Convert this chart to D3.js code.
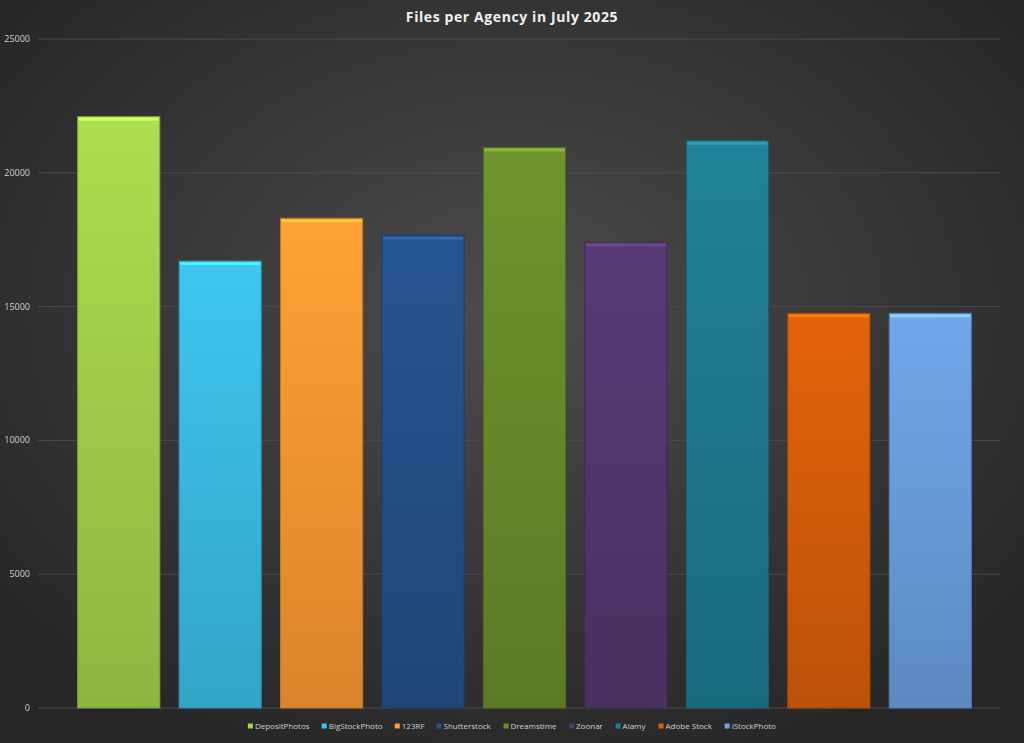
<!DOCTYPE html>
<html><head><meta charset="utf-8">
<script src="https://cdn.jsdelivr.net/npm/d3@7"></script>
<style>body{margin:0;background:#262626}</style>
</head><body><div id="chart"></div>
<script>
const agencies = ["DepositPhotos","BigStockPhoto","123RF","Shutterstock","Dreamstime","Zoonar","Alamy","Adobe Stock","iStockPhoto"];
const files = [22100,16700,18300,17650,20950,17400,21200,14750,14750];
const colours = ["#a6d64c","#3cc0e8","#ff9c32","#24528c","#6b8f2c","#553872","#1e7d94","#dc600a","#6ca2e2"];
const yTicks = [0,5000,10000,15000,20000,25000];

const width = 1024, height = 743;
const svg = d3.select("#chart").append("svg").attr("width", width).attr("height", height);
const defs = svg.append("defs");
const bg = defs.append("radialGradient").attr("id","bg").attr("cx","50%").attr("cy","42%").attr("r","65%");
bg.append("stop").attr("offset","0%").attr("stop-color","#4c4c4c");
bg.append("stop").attr("offset","100%").attr("stop-color","#262626");
svg.append("rect").attr("width",width).attr("height",height).attr("fill","url(#bg)");

const x = d3.scaleBand().domain(agencies).range([68, 981]).paddingInner(0.19).paddingOuter(0.095);
const y = d3.scaleLinear().domain([0,25000]).range([708,39]);

svg.append("g").selectAll("line").data(yTicks).enter().append("line")
  .attr("x1",38).attr("x2",1000).attr("y1",d=>y(d)).attr("y2",d=>y(d))
  .attr("stroke","#4a4a4a").attr("stroke-width",1);
svg.append("g").selectAll("text").data(yTicks).enter().append("text")
  .attr("x",30).attr("y",d=>y(d)+3).attr("text-anchor","end")
  .style("font-family","Open Sans, sans-serif").style("font-size","9px").attr("fill","#d0d0d0")
  .text(d=>d);

colours.forEach((c,i)=>{
  const g = defs.append("linearGradient").attr("id","g"+i).attr("x1",0).attr("x2",0).attr("y1",0).attr("y2",1);
  g.append("stop").attr("offset","0%").attr("stop-color",d3.color(c).brighter(0.1));
  g.append("stop").attr("offset","100%").attr("stop-color",d3.color(c).darker(0.45));
});

const bars = svg.append("g").selectAll("g").data(agencies).enter().append("g");
bars.append("rect")
  .attr("x",d=>x(d)).attr("y",(d,i)=>y(files[i]))
  .attr("width",x.bandwidth()).attr("height",(d,i)=>y(0)-y(files[i]))
  .attr("fill",(d,i)=>"url(#g"+i+")")
  .attr("stroke",(d,i)=>d3.color(colours[i]).darker(0.8)).attr("stroke-width",1);
bars.append("rect")
  .attr("x",d=>x(d)+1).attr("y",(d,i)=>y(files[i])+1)
  .attr("width",x.bandwidth()-2).attr("height",3)
  .attr("fill",(d,i)=>d3.color(colours[i]).brighter(0.7));

svg.append("text").attr("x",width/2).attr("y",22).attr("text-anchor","middle")
  .style("font-family","Open Sans, sans-serif").style("font-size","14px").style("font-weight","bold")
  .style("letter-spacing","0.6px")
  .attr("fill","#f0f0f0").text("Files per Agency in July 2025");

const legend = svg.append("g").attr("transform","translate(0,728)");
const item = legend.selectAll("g").data(agencies).enter().append("g");
item.append("rect").attr("width",5).attr("height",5).attr("y",-4.5).attr("fill",(d,i)=>colours[i]);
item.append("text").attr("x",7).attr("y",0.5)
  .style("font-family","Open Sans, sans-serif").style("font-size","8px").attr("fill","#d0d0d0")
  .text(d=>d);
let lx = 0; const pos = [];
item.each(function(){ pos.push(lx); lx += this.getBBox().width + 12; });
const start = (width - (lx - 12)) / 2;
item.attr("transform",(d,i)=>`translate(${start+pos[i]},0)`);
</script></body></html>
